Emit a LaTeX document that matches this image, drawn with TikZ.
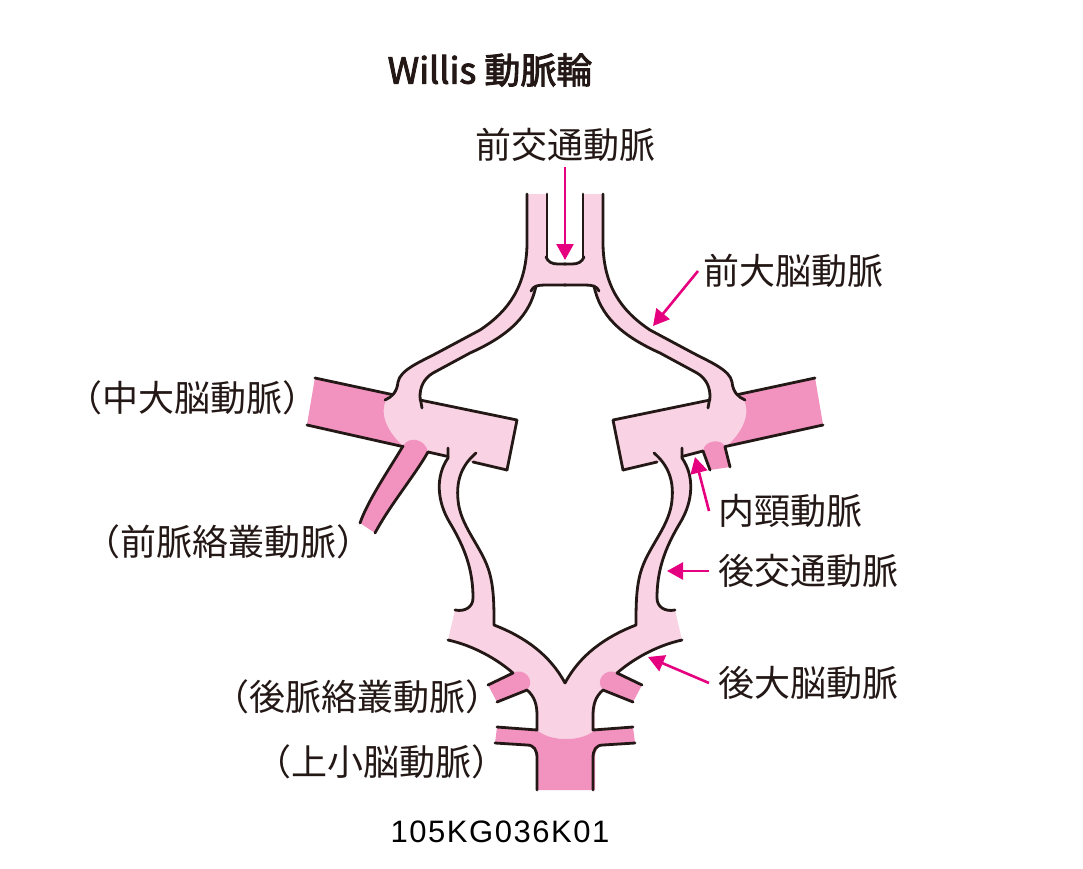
\documentclass[tikz,border=0pt]{standalone}
\usepackage{fontspec}
\newfontfamily\jpfont{Noto Sans CJK JP}
\newfontfamily\titlefont[FakeBold=2.5]{Noto Sans CJK JP}
\newfontfamily\codefont[LetterSpace=5]{Liberation Sans}
\usetikzlibrary{arrows.meta}

\definecolor{vesselpale}{RGB}{249,210,227}
\definecolor{vesseldeep}{RGB}{241,146,191}
\definecolor{arrowpink}{RGB}{229,0,127}
\definecolor{ink}{RGB}{35,24,21}

\tikzset{
  pale/.style={fill=vesselpale},
  deep/.style={fill=vesseldeep},
  wall/.style={draw=ink, line width=2.8pt, line cap=round, line join=round},
  callout/.style={draw=arrowpink, line width=2.6pt, -{Triangle[length=16pt,width=17pt]}},
  partname/.style={font=\jpfont\fontsize{36}{40}\selectfont, text=ink, inner sep=0pt}
}

\begin{document}
\begin{tikzpicture}[x=1pt, y=-1pt]
    \useasboundingbox (0,0) rectangle (1083,868);

    % left half, then its mirror image
    \foreach \side/\offx in {1/0,-1/1130}{
    \begin{scope}[xshift=\offx pt, xscale=\side]
        \fill[pale] (527,194) -- (527,245) .. controls (526,285) and (510,310) .. (480,330) -- (437,353)
            .. controls (420,362) and (400,370) .. (398,382) .. controls (397,392) and (392,397) .. (385,400)
            -- (422,410) -- (420,397) .. controls (420,388) and (423,379) .. (433,373) -- (470,353)
            .. controls (510,335) and (530,315) .. (536,286) -- (566,286) -- (566,263) -- (547,263) -- (547,194) -- cycle;
        \fill[pale] (448,448) -- (448,458) .. controls (436,475) and (436,500) .. (450,523)
            .. controls (465,548) and (473,570) .. (473,598) .. controls (473,607) and (465,612) .. (455,610)
            -- (494,625) .. controls (494,605) and (494,585) .. (488,568) .. controls (480,545) and (460,525) .. (458,500)
            .. controls (456,480) and (462,465) .. (476,453) -- cycle;
        \fill[pale] (315,378) -- (517,420) -- (507,470) -- (307,425) -- cycle;
        \fill[deep] (315,378) -- (390,394) .. controls (380,405) and (380,425) .. (403,446) -- (307,425) -- cycle;
    \end{scope}
    }

    % posterior cerebral and basilar tip
    \fill[pale] (455,610) -- (448,640) .. controls (475,646) and (498,660) .. (513,673) -- (527,689)
        .. controls (535,697) and (537,705) .. (537,716) -- (537,730) .. controls (550,742) and (582,742) .. (595,730)
        -- (595,716) .. controls (595,705) and (597,697) .. (603,689) -- (617,673)
        .. controls (632,660) and (655,646) .. (682,640) -- (675,610) -- (636,612) -- (636,625)
        .. controls (605,637) and (580,655) .. (565,683) .. controls (550,655) and (525,637) .. (494,625) -- (494,612) -- cycle;
    \fill[deep] (497,727) -- (537,730) .. controls (550,742) and (582,742) .. (595,730) -- (633,727) -- (635,743)
        -- (605,745) .. controls (598,745) and (595,750) .. (595,758) -- (595,790) -- (537,790) -- (537,758)
        .. controls (537,750) and (534,745) .. (527,745) -- (495,743) -- cycle;

    \foreach \side/\offx in {1/0,-1/1130}{
    \begin{scope}[xshift=\offx pt, xscale=\side]
        \fill[deep] (488,685) -- (513,673) .. controls (524,667) and (536,680) .. (527,690) -- (497,702) -- cycle;
    \end{scope}
    }
    \fill[deep] (360,523) .. controls (368,500) and (390,468) .. (403,446) .. controls (408,436) and (425,438) .. (428,452)
        .. controls (415,475) and (390,505) .. (375,533) -- cycle;
    \fill[deep] (703,451) .. controls (704,440) and (722,438) .. (725,447) -- (730,467) -- (710,470) -- cycle;

    % outlines
    \foreach \side/\offx in {1/0,-1/1130}{
    \begin{scope}[xshift=\offx pt, xscale=\side]
        \draw[wall] (527,194) -- (527,245) .. controls (526,285) and (510,310) .. (480,330) -- (437,353)
            .. controls (420,362) and (400,370) .. (398,382) .. controls (397,392) and (392,397) .. (385,400);
        \draw[wall] (547,194) -- (547,258);
        \draw[wall] (546,257) .. controls (548,262) and (552,264) .. (558,264) -- (566,264);
        \draw[wall] (531,291) .. controls (533,286) and (538,285) .. (545,285) -- (566,285);
        \draw[wall] (536,286) .. controls (530,315) and (510,335) .. (470,353) -- (433,373)
            .. controls (423,379) and (420,388) .. (420,397) -- (422,408);
        \draw[wall] (315,378) -- (392,394.5);
        \draw[wall] (420,400) -- (517,420) -- (507,470);
        \draw[wall] (448,448) -- (448,458) .. controls (436,475) and (436,500) .. (450,523)
            .. controls (465,548) and (473,570) .. (473,598) .. controls (473,607) and (465,612) .. (455,610);
        \draw[wall] (476,453) .. controls (462,465) and (456,480) .. (458,500) .. controls (460,525) and (480,545) .. (488,568)
            .. controls (494,585) and (494,605) .. (494,625) .. controls (525,637) and (550,655) .. (565,683);
        \draw[wall] (448,640) .. controls (475,646) and (498,660) .. (513,673) -- (488,685);
        \draw[wall] (497,702) -- (527,690) .. controls (535,697) and (537,705) .. (537,716) -- (537,730) -- (497,727);
        \draw[wall] (495,743) -- (527,745) .. controls (534,745) and (537,750) .. (537,758) -- (537,790);
    \end{scope}
    }
    \draw[wall] (307,425) -- (403,446.6);
    \draw[wall] (428,452) -- (448,456.5);
    \draw[wall] (473,462) -- (507,470);
    \draw[wall] (823,425) -- (725,446.6);
    \draw[wall] (703,451) -- (682,456.5);
    \draw[wall] (657,462) -- (623,470);
    \draw[wall] (403,446) .. controls (390,468) and (368,500) .. (360,523);
    \draw[wall] (428,452) .. controls (415,475) and (390,505) .. (375,533);
    \draw[wall] (703,451) -- (710,470);
    \draw[wall] (725,447) -- (730,467);

    % titles and names
    \node[font=\titlefont\fontsize{36}{40}\selectfont, text=ink] (title) at (490,70) {Willis 動脈輪};
    \node[partname] (acom) at (565,145) {前交通動脈};
    \node[partname, anchor=west] (aca) at (703,271) {前大脳動脈};
    \node[partname, anchor=west] (ica) at (718,511) {内頸動脈};
    \node[partname, anchor=west] (pcom) at (718,571) {後交通動脈};
    \node[partname, anchor=west] (pca) at (718,683) {後大脳動脈};
    \node[partname] (mca) at (192,398) {（中大脳動脈）};
    \node[partname] (achor) at (228,542) {（前脈絡叢動脈）};
    \node[partname] (pchor) at (357,697) {（後脈絡叢動脈）};
    \node[partname] (sca) at (381,762) {（上小脳動脈）};
    \node[font=\codefont\fontsize{31}{34}\selectfont, text=black] (code) at (500,832) {105KG036K01};

    % pointers
    \coordinate (acomtip) at (565,260);
    \coordinate (acatip) at (653,326);
    \coordinate (icatip) at (695,457);
    \coordinate (pcomtip) at (667,571);
    \coordinate (pcatip) at (648,657);
    \draw[callout, shorten <=5pt] (acom.south) -- (acomtip);
    \draw[callout] ([xshift=-5pt]aca.west) -- (acatip);
    \draw[callout] ([xshift=-9pt]ica.west) -- (icatip);
    \draw[callout] ([xshift=-9pt]pcom.west) -- (pcomtip);
    \draw[callout] ([xshift=-9pt]pca.west) -- (pcatip);
\end{tikzpicture}
\end{document}
